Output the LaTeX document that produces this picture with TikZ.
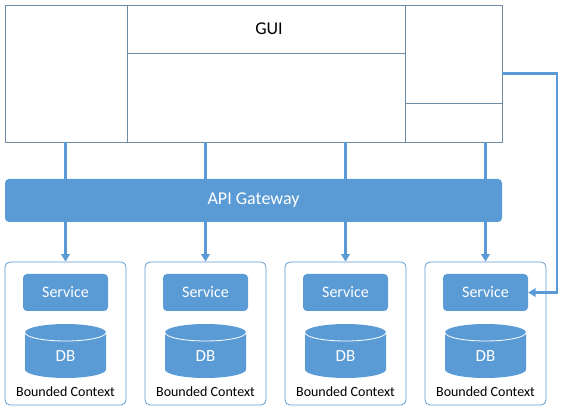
\documentclass[tikz,border=0pt]{standalone}
\usepackage{fontspec}
\setmainfont{Carlito}
\usepackage{tikz}
\usetikzlibrary{arrows.meta,calc,positioning}
\definecolor{boxblue}{HTML}{5B9BD5}
\definecolor{guiline}{HTML}{6E8BA5}

\begin{document}
\begin{tikzpicture}[x=1pt,y=-1pt,
  guibox/.style={draw=guiline,line width=0.8pt,inner sep=0pt},
  bluebox/.style={fill=boxblue,rounded corners=4pt,text=white,inner sep=0pt},
  ctxbox/.style={draw=boxblue,line width=0.8pt,rounded corners=5pt,inner sep=0pt,minimum width=121,minimum height=143},
  link/.style={boxblue,line width=2.6pt},
  linkarrow/.style={link,-{Triangle[width=8.5pt,length=7.5pt]}}]
  \useasboundingbox (0,0) rectangle (566,414);
  % screen
  \node[guibox,minimum width=497,minimum height=137] (gui) at (253.5,73.5) {};
  \draw[guiline,line width=0.8pt] (127,5) -- (127,142) (405,5) -- (405,142)
    (127,53) -- (405,53) (405,103) -- (502,103);
  \node[font=\fontsize{18}{20}\selectfont] (guilabel) at (269,29) {GUI};
  % gateway
  \node[bluebox,minimum width=497,minimum height=43,font=\fontsize{18}{20}\selectfont] (gw) at (253.5,200.5) {API Gateway};
  % bounded contexts
  \foreach \i/\x in {1/65.5,2/205.5,3/345.5,4/485.5}{
    \node[ctxbox] (ctx\i) at (\x,333.5) {};
    \node[bluebox,minimum width=85,minimum height=37,font=\fontsize{16}{18}\selectfont] (svc\i) at (\x,292.5) {Service};
    \fill[boxblue] (\x-40.5,332.5) -- (\x-40.5,369.5)
      arc[start angle=180,end angle=0,x radius=40.5,y radius=8.5] -- (\x+40.5,332.5)
      arc[start angle=0,end angle=-180,x radius=40.5,y radius=8.5] -- cycle;
    \draw[white,line width=0.8pt] (\x-40.5,332.5) arc[start angle=180,end angle=0,x radius=40.5,y radius=8.5];
    \node[text=white,font=\fontsize{17}{19}\selectfont] (db\i) at (\x,356) {DB};
    \node[font=\fontsize{14}{16}\selectfont] (bc\i) at (\x,392) {Bounded Context};
    \draw[link] (gui.south -| ctx\i) -- (gw.north -| ctx\i);
    \draw[linkarrow] (gw.south -| ctx\i) -- (ctx\i.north);
  }
  \coordinate (turn) at (557,0);
  \draw[linkarrow] (gui.east) -- (gui.east -| turn) -- (turn |- svc4.east) -- (svc4.east);
\end{tikzpicture}
\end{document}
